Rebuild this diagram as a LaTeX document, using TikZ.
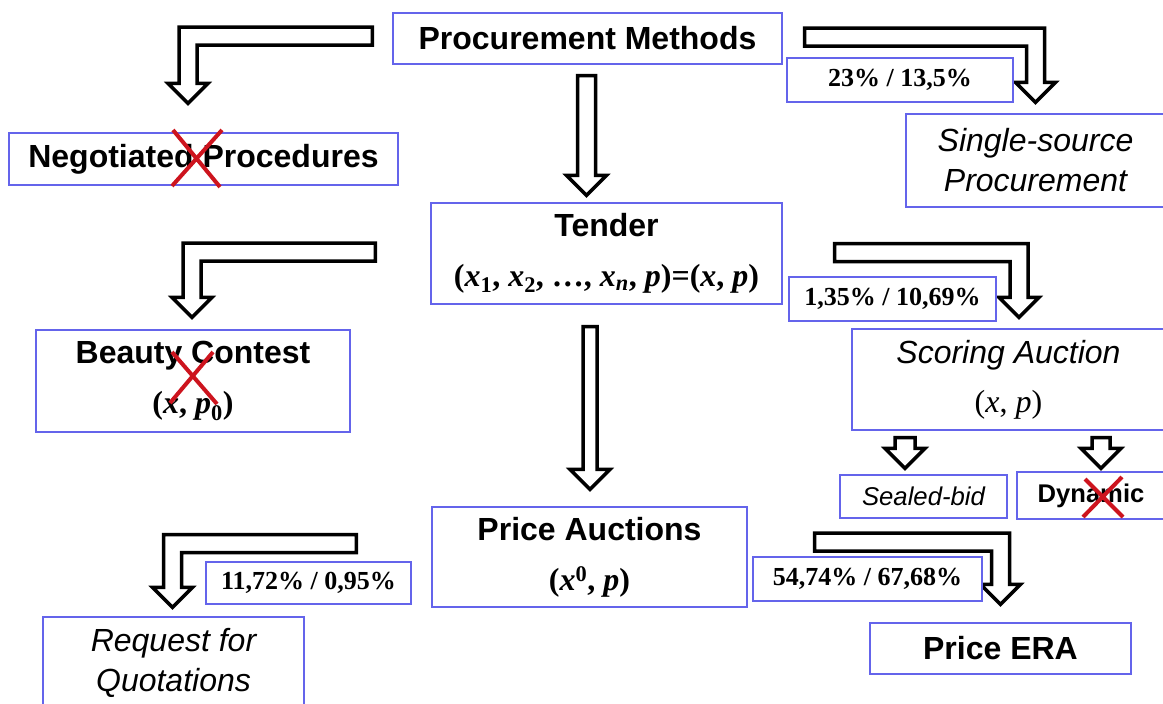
\documentclass[tikz,border=0pt]{standalone}
\usepackage{fontspec}
\setmainfont{Liberation Sans}
\newfontfamily\tnr{Liberation Serif}
\usetikzlibrary{calc}
\definecolor{boxblue}{RGB}{100,100,235}
\definecolor{crossred}{RGB}{205,20,30}

% block arrow sizes: shaft half width, head half width, head length
\newcommand\aw{9}
\newcommand\aH{20}
\newcommand\ah{20}

% bent block arrow: tail, tip, direction (1 right, -1 left)
\newcommand\bentarrow[3]{%
  \draw[blockarrow] let \p1=(#1), \p2=(#2) in
    (\x1,{\y1+\aw}) -- ({\x2+(#3)*\aw},{\y1+\aw}) -- ({\x2+(#3)*\aw},{\y2+\ah})
    -- ({\x2+(#3)*\aH},{\y2+\ah}) -- (\x2,\y2) -- ({\x2-(#3)*\aH},{\y2+\ah})
    -- ({\x2-(#3)*\aw},{\y2+\ah}) -- ({\x2-(#3)*\aw},{\y1-\aw}) -- (\x1,{\y1-\aw}) -- cycle;}

% straight block arrow going down: top of shaft, tip
\newcommand\droparrow[2]{%
  \draw[blockarrow] let \p1=(#1), \p2=(#2) in
    ({\x1-\aw},\y1) -- ({\x1-\aw},{\y2+\ah}) -- ({\x1-\aH},{\y2+\ah}) -- (\x1,\y2)
    -- ({\x1+\aH},{\y2+\ah}) -- ({\x1+\aw},{\y2+\ah}) -- ({\x1+\aw},\y1) -- cycle;}

\begin{document}
\begin{tikzpicture}[x=1pt, y=-1pt,
  box/.style={draw=boxblue, line width=1.3pt, fill=white, align=center, inner sep=0pt},
  title/.style={box, font=\fontsize{32}{50}\selectfont\bfseries},
  kind/.style={box, font=\fontsize{32}{40}\selectfont\itshape},
  share/.style={box, font=\tnr\fontsize{26}{28}\selectfont\bfseries},
  blockarrow/.style={draw=black, line width=3.5pt, fill=white},
  cross/.style={draw=crossred, line width=4pt}]
\useasboundingbox (0,0) rectangle (1163,704);

% boxes
\node[title, minimum width=389, minimum height=51] (pm) at (587.5,38.5) {Procurement Methods};
\node[title, minimum width=389, minimum height=52] (neg) at (203.5,159) {Negotiated Procedures};
\node[kind, minimum width=259, minimum height=93] (single) at (1035.5,160.5) {Single-source\\Procurement};
\node[title, minimum width=351, minimum height=101] (tender) at (606.5,253.5)
  {Tender\\{\tnr (\textit{x}\textsubscript{1}, \textit{x}\textsubscript{2}, …, \textit{x}\textsubscript{\textit{n}}, \textit{p})=(\textit{x}, \textit{p})}};
\node[title, minimum width=314, minimum height=102] (beauty) at (193,381)
  {Beauty Contest\\{\tnr (\textit{x}, \textit{p}\textsubscript{0})}};
\node[kind, minimum width=313, minimum height=101] (scoring) at (1008.5,379.5)
  {Scoring Auction\\[9pt]{\tnr\upshape (\textit{x}, \textit{p})}};
\node[kind, font=\fontsize{25.7}{28}\selectfont\itshape, minimum width=167, minimum height=43] (sealed) at (923.5,496.5) {Sealed-bid};
\node[title, font=\fontsize{25.6}{28}\selectfont\bfseries, minimum width=148, minimum height=47] (dynamic) at (1091,495.5) {Dynamic};
\node[title, minimum width=315, minimum height=100] (price) at (589.5,557)
  {Price Auctions\\{\tnr (\textit{x}\textsuperscript{0}, \textit{p})}};
\node[kind, minimum width=261, minimum height=92] (rfq) at (173.5,663) {Request for\\Quotations};
\node[title, minimum width=261, minimum height=51] (era) at (1000.5,648.5) {Price ERA};

% block arrows
\bentarrow{$(pm.west)+(-20,-2.5)$}{$(neg.north)+(-15.5,-29)$}{-1}
\bentarrow{$(pm.east)+(22,-1.5)$}{$(single.north)+(0,-11)$}{1}
\droparrow{$(pm.south)+(-1,11)$}{$(tender.north)+(-20,-7)$}
\bentarrow{$(tender.west)+(-55,-1.5)$}{$(beauty.north)+(-1,-12)$}{-1}
\bentarrow{$(tender.east)+(52,-1)$}{$(scoring.north)+(10.5,-11)$}{1}
{\renewcommand\aw{10}\droparrow{$(scoring.south)+(-103.5,7)$}{$(sealed.north)+(-18.5,-6)$}}
\droparrow{$(scoring.south)+(92.5,7)$}{$(dynamic.north)+(10,-3)$}
{\renewcommand\aw{7}\droparrow{$(tender.south)+(-16.5,22)$}{$(price.north)+(0.5,-17)$}}
\bentarrow{$(price.west)+(-75,-13.5)$}{$(rfq.north)+(-1,-9)$}{-1}
\bentarrow{$(price.east)+(67,-15)$}{$(era.north)+(0,-18)$}{1}

% shares
\node[share, minimum width=226, minimum height=44] (s1) at (900,80) {23\% / 13,5\%};
\node[share, minimum width=207, minimum height=44] (s2) at (892.5,299) {1,35\% / 10,69\%};
\node[share, minimum width=205, minimum height=42] (s3) at (308.5,583) {11,72\% / 0,95\%};
\node[share, minimum width=229, minimum height=44] (s4) at (867.5,579) {54,74\% / 67,68\%};

% crossed out
\draw[cross] (173,130) -- (220,187) (222,130) -- (172,186);
\draw[cross] (172,352) -- (217,404) (213,352) -- (170,403);
\draw[cross] (1085,479) -- (1123,517) (1122,477) -- (1083,517);
\end{tikzpicture}
\end{document}
